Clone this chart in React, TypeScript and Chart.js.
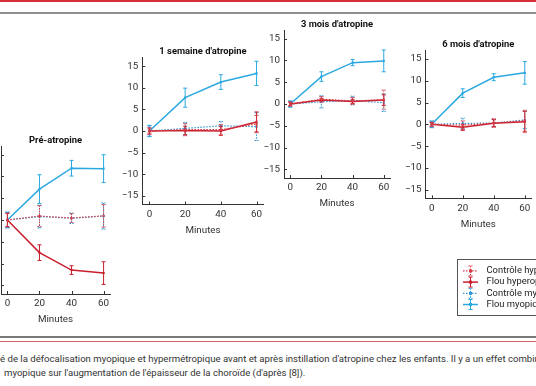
import React, { useEffect, useRef } from "react";
import { Chart, registerables } from "chart.js";

Chart.register(...registerables);

// ---------- data ----------
const minutes = [0, 20, 40, 60];
const yTicks = [-15, -10, -5, 0, 5, 10, 15];
const seriesLabels = [
  "Contrôle hyperopique",
  "Flou hyperopique",
  "Contrôle myopique",
  "Flou myopique",
];
const panelTitles = [
  "Pré-atropine",
  "1 semaine d'atropine",
  "3 mois d'atropine",
  "6 mois d'atropine",
];
const xAxisTitle = "Minutes";

// Pré-atropine
const preCtrlHyp = [0, 0.9, 0.45, 0.95];
const preCtrlHypErr = [1.6, 2.4, 1.0, 2.6];
const preFlouHyp = [0, -7.5, -11.5, -12.2];
const preFlouHypErr = [1.5, 1.8, 1.0, 2.6];
const preCtrlMyo = [0, 0.8, 0.4, 0.9];
const preCtrlMyoErr = [1.8, 2.6, 1.2, 3.0];
const preFlouMyo = [0, 7.1, 11.9, 11.8];
const preFlouMyoErr = [1.8, 3.3, 1.8, 3.2];

// 1 semaine
const w1CtrlHyp = [0, 0.3, 0.3, 1.6];
const w1CtrlHypErr = [0.8, 1.4, 1.2, 2.0];
const w1FlouHyp = [0, 0.1, 0, 2.1];
const w1FlouHypErr = [0.5, 1.0, 1.0, 2.3];
const w1CtrlMyo = [0, 0.6, 1.2, 1.0];
const w1CtrlMyoErr = [1.2, 1.4, 1.0, 3.2];
const w1FlouMyo = [0, 7.7, 11.3, 13.3];
const w1FlouMyoErr = [1.3, 2.2, 1.7, 2.8];

// 3 mois
const m3CtrlHyp = [0, 1.1, 0.7, 1.0];
const m3CtrlHypErr = [0.5, 0.6, 0.8, 2.2];
const m3FlouHyp = [0, 0.9, 0.6, 0.9];
const m3FlouHypErr = [0.4, 0.4, 0.5, 1.2];
const m3CtrlMyo = [0, 0.5, 0.8, 0.3];
const m3CtrlMyoErr = [0.7, 1.4, 1.0, 2.0];
const m3FlouMyo = [0, 6.3, 9.5, 9.9];
const m3FlouMyoErr = [0.7, 1.1, 0.7, 2.5];

// 6 mois
const m6CtrlHyp = [0, -0.2, 0.3, 0.8];
const m6CtrlHypErr = [0.5, 1.0, 1.0, 2.4];
const m6FlouHyp = [0, -0.7, 0.25, 0.6];
const m6FlouHypErr = [0.4, 0.7, 0.8, 2.4];
const m6CtrlMyo = [0, 0.2, 0.3, 1.0];
const m6CtrlMyoErr = [0.8, 1.2, 0.8, 2.0];
const m6FlouMyo = [0, 7.15, 10.8, 11.8];
const m6FlouMyoErr = [0.7, 1.0, 0.8, 2.6];

const panelValues = [
  [preCtrlHyp, preFlouHyp, preCtrlMyo, preFlouMyo],
  [w1CtrlHyp, w1FlouHyp, w1CtrlMyo, w1FlouMyo],
  [m3CtrlHyp, m3FlouHyp, m3CtrlMyo, m3FlouMyo],
  [m6CtrlHyp, m6FlouHyp, m6CtrlMyo, m6FlouMyo],
];
const panelErrors = [
  [preCtrlHypErr, preFlouHypErr, preCtrlMyoErr, preFlouMyoErr],
  [w1CtrlHypErr, w1FlouHypErr, w1CtrlMyoErr, w1FlouMyoErr],
  [m3CtrlHypErr, m3FlouHypErr, m3CtrlMyoErr, m3FlouMyoErr],
  [m6CtrlHypErr, m6FlouHypErr, m6CtrlMyoErr, m6FlouMyoErr],
];

const captionLine1 =
  "é de la défocalisation myopique et hypermétropique avant et après instillation d'atropine chez les enfants. Il y a un effet combiné";
const captionLine2 =
  "myopique sur l'augmentation de l'épaisseur de la choroïde (d'après [8]).";

// ---------- styles ----------
const FONT = "Roboto, 'DejaVu Sans', sans-serif";
const AXIS = "#333333";
const seriesColors = ["#d83a47", "#c91f2d", "#2f98d3", "#2ba8e0"];
const seriesDotted = [true, false, true, false];

// chart-area boxes (page pixels) for the four panels
const panelBoxes = [
  { L: 1, T: 146, R: 110, B: 294 },
  { L: 142.3, T: 57.4, R: 263.7, B: 204.6 },
  { L: 284, T: 30, R: 390, B: 178 },
  { L: 425.5, T: 50.2, R: 531, B: 198.4 },
];

const errorBarPlugin = {
  id: "errorBars",
  afterDatasetDraw(chart: any, args: any) {
    const ds: any = chart.data.datasets[args.index];
    const errs: number[] = ds.errors;
    if (!errs) return;
    const ys = chart.scales.y;
    const ctx = chart.ctx;
    ctx.save();
    ctx.strokeStyle = ds.borderColor;
    ctx.lineWidth = 1;
    ctx.setLineDash(ds.borderDash && ds.borderDash.length ? [1.5, 1.2] : []);
    args.meta.data.forEach((pt: any, i: number) => {
      const v = ds.data[i].y;
      const top = ys.getPixelForValue(v + errs[i]);
      const bot = ys.getPixelForValue(v - errs[i]);
      const x = pt.x;
      ctx.beginPath();
      ctx.moveTo(x, top);
      ctx.lineTo(x, bot);
      ctx.moveTo(x - 2, top);
      ctx.lineTo(x + 2, top);
      ctx.moveTo(x - 2, bot);
      ctx.lineTo(x + 2, bot);
      ctx.stroke();
    });
    ctx.restore();
  },
};

const innerTicksPlugin = {
  id: "innerTicks",
  afterDraw(chart: any) {
    const { ctx, chartArea, scales } = chart;
    ctx.save();
    ctx.strokeStyle = AXIS;
    ctx.lineWidth = 1;
    scales.x.ticks.forEach((t: any) => {
      const px = Math.round(scales.x.getPixelForValue(t.value)) + 0.5;
      ctx.beginPath();
      ctx.moveTo(px, chartArea.bottom);
      ctx.lineTo(px, chartArea.bottom - 3);
      ctx.stroke();
    });
    scales.y.ticks.forEach((t: any) => {
      const py = Math.round(scales.y.getPixelForValue(t.value)) + 0.5;
      ctx.beginPath();
      ctx.moveTo(chartArea.left, py);
      ctx.lineTo(chartArea.left + 3, py);
      ctx.stroke();
    });
    ctx.restore();
  },
};

const legendPlugin = {
  id: "boxLegend",
  afterDraw(chart: any, _args: any, opts: any) {
    if (!opts || !opts.display) return;
    const { ctx, chartArea } = chart;
    const left = chartArea.left + 31.5;
    const top = chartArea.bottom + 60.5;
    ctx.save();
    ctx.strokeStyle = "#555";
    ctx.lineWidth = 1;
    ctx.strokeRect(Math.round(left) + 0.5, Math.round(top) + 0.5, 140, 56);
    chart.data.datasets.forEach((ds: any, i: number) => {
      const y = top + 12 + i * 11.2;
      const x0 = left + 6;
      const x1 = left + 21;
      const xm = (x0 + x1) / 2;
      ctx.strokeStyle = ds.borderColor;
      ctx.lineWidth = ds.borderWidth;
      ctx.setLineDash(ds.borderDash || []);
      ctx.beginPath();
      ctx.moveTo(x0, y);
      ctx.lineTo(x1, y);
      ctx.stroke();
      ctx.lineWidth = 1;
      ctx.setLineDash(ds.borderDash && ds.borderDash.length ? [1.5, 1.2] : []);
      ctx.beginPath();
      ctx.moveTo(xm, y - 5);
      ctx.lineTo(xm, y + 5);
      ctx.moveTo(xm - 2, y - 5);
      ctx.lineTo(xm + 2, y - 5);
      ctx.moveTo(xm - 2, y + 5);
      ctx.lineTo(xm + 2, y + 5);
      ctx.stroke();
      ctx.setLineDash([]);
      ctx.fillStyle = ds.borderColor;
      ctx.fillRect(xm - 1.5, y - 1.5, 3, 3);
      ctx.fillStyle = "#222";
      ctx.font = `9.4px ${FONT}`;
      ctx.textBaseline = "middle";
      ctx.textAlign = "left";
      ctx.fillText(ds.label, left + 29.5, y);
    });
    ctx.restore();
  },
};

function fmt(v: number) {
  return v < 0 ? "\u2212" + Math.abs(v) : String(v);
}

type Box = { L: number; T: number; R: number; B: number };

function Panel({ index, legend }: { index: number; legend?: boolean }) {
  const ref = useRef<HTMLCanvasElement>(null);
  const box: Box = panelBoxes[index];
  const W0 = 26;
  const TITLE_LH = 11.28;
  const XH = 36;
  const cl = Math.floor(box.L - W0);
  const ct = Math.floor(box.T - TITLE_LH - 1);
  const extraRight = legend ? 80 : 8;
  const extraBottom = legend ? 330 - box.B - XH : 2;
  const cw = Math.ceil(box.R + extraRight) - cl;
  const ch = Math.ceil(box.B + XH + extraBottom) - ct;
  const yW = box.L - cl;
  const titlePadTop = box.T - ct - TITLE_LH;
  const padRight = cl + cw - box.R;
  const padBottom = ct + ch - box.B - XH;

  useEffect(() => {
    if (!ref.current) return;
    const values = panelValues[index];
    const errors = panelErrors[index];
    const datasets = seriesLabels.map((label, s) => ({
      label,
      data: minutes.map((m, i) => ({ x: m, y: values[s][i] })),
      errors: errors[s],
      borderColor: seriesColors[s],
      backgroundColor: seriesColors[s],
      borderWidth: seriesDotted[s] ? 1.2 : 1.5,
      borderDash: seriesDotted[s] ? [1.5, 1.5] : [],
      pointStyle: "rect",
      pointRadius: 1.5,
      pointBorderWidth: 0,
      tension: 0,
      fill: false,
    }));
    const tickFont = { family: FONT, size: 9.8, lineHeight: 1.2 };
    const chart = new Chart(ref.current, {
      type: "line",
      data: { datasets } as any,
      options: {
        responsive: false,
        animation: false,
        devicePixelRatio: 1,
        layout: { padding: { left: 0, top: 0, right: padRight, bottom: padBottom } },
        plugins: {
          legend: { display: false },
          tooltip: { enabled: false },
          title: {
            display: true,
            text: panelTitles[index],
            fullSize: false,
            padding: { top: titlePadTop, bottom: 0 },
            color: "#111",
            font: { family: FONT, size: 9.4, weight: "bold", lineHeight: 1.2 },
          },
          boxLegend: { display: !!legend },
        } as any,
        scales: {
          x: {
            type: "linear",
            min: -4,
            max: 64,
            afterBuildTicks: (scale: any) => {
              scale.ticks = minutes.map((v) => ({ value: v }));
            },
            afterFit: (scale: any) => {
              scale.height = XH;
            },
            grid: { display: false, drawTicks: false, tickLength: 0 },
            border: { display: true, color: AXIS, width: 1 },
            ticks: {
              padding: 4,
              color: "#333",
              font: tickFont,
              callback: (v: any) => fmt(Number(v)),
            },
            title: {
              display: true,
              text: xAxisTitle,
              color: "#333",
              font: tickFont,
              padding: { top: 0, bottom: XH - 26 - 5.9 },
            },
          },
          y: {
            type: "linear",
            min: -17,
            max: 17,
            afterBuildTicks: (scale: any) => {
              scale.ticks = yTicks.map((v) => ({ value: v }));
            },
            afterFit: (scale: any) => {
              scale.width = yW;
            },
            grid: { display: false, drawTicks: false, tickLength: 0 },
            border: { display: true, color: AXIS, width: 1 },
            ticks: {
              padding: 4,
              color: "#333",
              font: tickFont,
              callback: (v: any) => fmt(Number(v)),
            },
          },
        },
      } as any,
      plugins: [errorBarPlugin, innerTicksPlugin, legendPlugin] as any,
    });
    return () => chart.destroy();
  }, []);

  return (
    <canvas
      ref={ref}
      width={cw}
      height={ch}
      style={{ position: "absolute", left: cl, top: ct, width: cw, height: ch }}
    />
  );
}

export default function App() {
  return (
    <div
      style={{
        position: "fixed",
        left: 0,
        top: 0,
        width: 536,
        height: 386,
        overflow: "hidden",
        background: "#fff",
        fontFamily: FONT,
      }}
    >
      <div style={{ position: "absolute", left: 0, top: 0, width: 536, height: 2, background: "#d8303a" }} />
      <div style={{ position: "absolute", left: 0, top: 12, width: 536, height: 2, background: "#909090" }} />
      <Panel index={0} />
      <Panel index={1} />
      <Panel index={2} />
      <Panel index={3} legend />
      <div style={{ position: "absolute", left: 0, top: 336, width: 536, height: 2, background: "#7a7a7a" }} />
      <div style={{ position: "absolute", left: 0, top: 341, width: 536, height: 1, background: "#d9626a" }} />
      <div
        style={{
          position: "absolute",
          left: 0,
          top: 352,
          whiteSpace: "nowrap",
          fontSize: 9.6,
          lineHeight: "14px",
          color: "#333",
        }}
      >
        {captionLine1}
      </div>
      <div
        style={{
          position: "absolute",
          left: 4,
          top: 366,
          whiteSpace: "nowrap",
          fontSize: 9.6,
          lineHeight: "14px",
          color: "#333",
        }}
      >
        {captionLine2}
      </div>
    </div>
  );
}
